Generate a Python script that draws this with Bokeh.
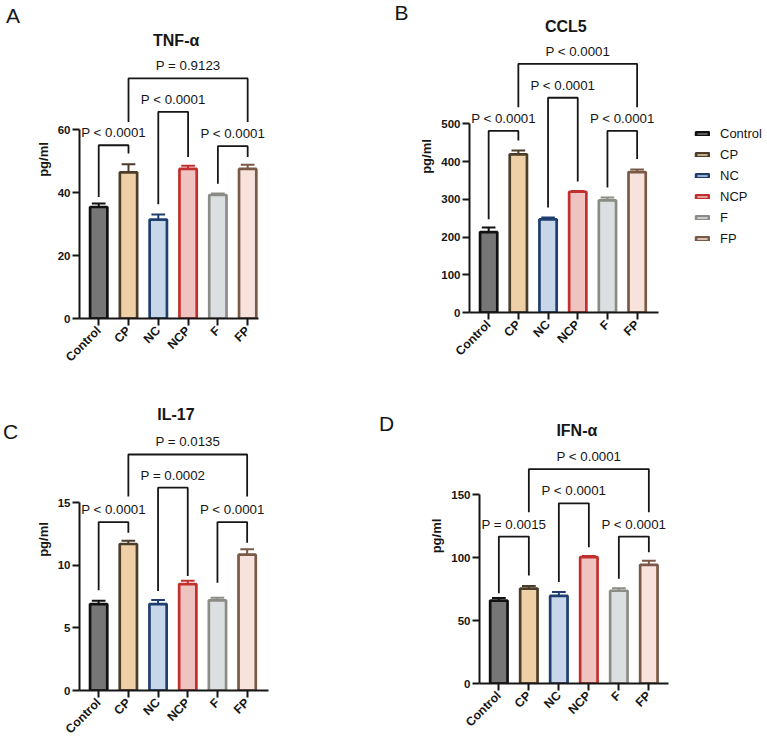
import math

from bokeh.core.properties import value
from bokeh.embed import file_html
from bokeh.layouts import column, row
from bokeh.models import FixedTicker, Legend, LegendItem, Range1d
from bokeh.plotting import figure
from bokeh.resources import INLINE

# ---- groups and colours -------------------------------------------------
groups = ["Control", "CP", "NC", "NCP", "F", "FP"]
fill_colors = ["#767676", "#efcfa6", "#c7d6e8", "#efc3bf", "#dcdfe2", "#f7e3dc"]
edge_colors = ["#111111", "#4b3d2a", "#1f3f70", "#c0302e", "#8c8c86", "#7a5947"]

# ---- TNF-alpha (pg/ml) --------------------------------------------------
tnf_mean = [35.4, 46.4, 31.4, 47.5, 39.2, 47.5]
tnf_sem = [1.1, 2.6, 1.6, 1.0, 0.5, 1.3]
tnf_ticks = [0, 20, 40, 60]
# (group a, group b, label, bracket level, left leg end, right leg end)
tnf_brackets = [
    (0, 1, "P < 0.0001", 55.0, 38.6, 52.4),
    (1, 5, "P = 0.9123", 76.2, 62.4, 62.4),
    (2, 3, "P < 0.0001", 65.6, 36.3, 51.3),
    (4, 5, "P < 0.0001", 54.7, 42.8, 51.3),
]

# ---- CCL5 (pg/ml) -------------------------------------------------------
ccl5_mean = [213, 419, 247, 320, 297, 372]
ccl5_sem = [12, 10, 5, 2, 8, 7]
ccl5_ticks = [0, 100, 200, 300, 400, 500]
ccl5_brackets = [
    (0, 1, "P < 0.0001", 481, 247, 456),
    (1, 5, "P < 0.0001", 659, 544, 544),
    (2, 3, "P < 0.0001", 569, 278, 347),
    (4, 5, "P < 0.0001", 481, 331, 407),
]

# ---- IL-17 (pg/ml) ------------------------------------------------------
il17_mean = [6.9, 11.7, 6.9, 8.5, 7.2, 10.85]
il17_sem = [0.27, 0.27, 0.32, 0.26, 0.21, 0.43]
il17_ticks = [0, 5, 10, 15]
il17_brackets = [
    (0, 1, "P < 0.0001", 13.45, 8.0, 12.6),
    (1, 5, "P = 0.0135", 18.85, 15.5, 15.5),
    (2, 3, "P = 0.0002", 16.2, 7.95, 9.15),
    (4, 5, "P < 0.0001", 13.45, 8.6, 11.8),
]

# ---- IFN-alpha (pg/ml) --------------------------------------------------
ifn_mean = [66.0, 75.5, 69.8, 100.6, 73.8, 94.4]
ifn_sem = [2.0, 2.1, 3.0, 0.8, 1.9, 3.2]
ifn_ticks = [0, 50, 100, 150]
ifn_brackets = [
    (0, 1, "P = 0.0015", 116.9, 71.8, 86.0),
    (1, 5, "P < 0.0001", 170.6, 136.2, 136.2),
    (2, 3, "P < 0.0001", 143.4, 80.7, 108.5),
    (4, 5, "P < 0.0001", 116.9, 83.3, 104.5),
]

FONT = "Liberation Sans"
INK = "#161616"
X0 = -0.645      # left edge of every panel's x range
BORDER = 70      # room under each frame for the slanted group names
ROW1 = 318 + BORDER   # height of the upper row (px)


def txt(p, x, y, s, size, bold=False, dx=0, dy=0, align="center"):
    p.text(x=[x], y=[y], text=[s], x_offset=dx, y_offset=dy,
           text_align=align, text_baseline="middle",
           text_font=value(FONT), text_font_size=value(size),
           text_font_style="bold" if bold else "normal", text_color=INK)


def panel(title, means, sems, ticks, brackets, *, width, left, frame_bottom,
          px_per_unit, x_end, axis_end, title_rise):
    y_end = frame_bottom / px_per_unit
    p = figure(width=width, height=frame_bottom + BORDER,
               output_backend="svg", toolbar_location=None,
               x_range=Range1d(X0, x_end), y_range=Range1d(0, y_end),
               min_border_left=left, min_border_right=0,
               min_border_top=0, min_border_bottom=BORDER)
    p.outline_line_color = None
    p.xgrid.visible = False
    p.ygrid.visible = False

    xs = list(range(len(groups)))
    bars = p.vbar(x=xs, top=means, width=0.58, bottom=0,
                  fill_color=fill_colors, line_color=edge_colors,
                  line_width=2.7)

    # upper error whiskers with caps
    tops = [m + s for m, s in zip(means, sems)]
    p.segment(x0=xs, y0=means, x1=xs, y1=tops, line_color=edge_colors,
              line_width=2)
    p.segment(x0=[x - 0.23 for x in xs], y0=tops,
              x1=[x + 0.23 for x in xs], y1=tops,
              line_color=edge_colors, line_width=2)

    # significance brackets
    bx, by, lx, ly, lt = [], [], [], [], []
    for a, b, label, lvl, la, lb in brackets:
        bx.append([a, a, b, b])
        by.append([la, lvl, lvl, lb])
        lx.append((a + b) / 2)
        ly.append(lvl)
        lt.append(label)
    p.multi_line(xs=bx, ys=by, line_color=INK, line_width=1.8)
    p.text(x=lx, y=ly, text=lt, text_align="center", text_baseline="middle",
           y_offset=-12.5, text_font=value(FONT),
           text_font_size=value("13.3px"), text_color=INK)

    # panel title above the top tick
    txt(p, 2.6, ticks[-1], title, "16px", bold=True, dy=-title_rise)

    # axes
    p.yaxis.ticker = FixedTicker(ticks=ticks)
    p.yaxis.bounds = (ticks[0], ticks[-1])
    p.yaxis.axis_label = "pg/ml"
    p.yaxis.axis_label_text_font = FONT
    p.yaxis.axis_label_text_font_style = "bold"
    p.yaxis.axis_label_text_font_size = "13px"
    p.yaxis.axis_label_text_color = INK
    p.yaxis.axis_label_standoff = 4

    p.xaxis.ticker = FixedTicker(ticks=xs)
    p.xaxis.bounds = (X0, axis_end)
    p.xaxis.major_label_overrides = {i: g for i, g in enumerate(groups)}
    p.xaxis.major_label_orientation = math.pi / 4

    for ax in (p.xaxis, p.yaxis):
        ax.axis_line_width = 2
        ax.axis_line_color = INK
        ax.major_tick_line_width = 2
        ax.major_tick_line_color = INK
        ax.major_tick_out = 7
        ax.major_tick_in = 0
        ax.minor_tick_line_color = None
        ax.major_label_text_font = FONT
        ax.major_label_text_font_style = "bold"
        ax.major_label_text_color = INK
    p.yaxis.major_label_text_font_size = "11.5px"
    p.xaxis.major_label_text_font_size = "12.3px"
    p.yaxis.major_label_standoff = 2
    p.xaxis.major_label_standoff = 3
    p.xaxis.axis_label_standoff = 0
    return p, bars


def letter_strip(height, letter, x, y_from_top):
    s = figure(width=28, height=height, output_backend="svg",
               toolbar_location=None, x_axis_location=None,
               y_axis_location=None, x_range=Range1d(0, 28),
               y_range=Range1d(0, 1), min_border=0)
    s.outline_line_color = None
    s.xgrid.visible = False
    s.ygrid.visible = False
    txt(s, x, 1, letter, "21px", dy=y_from_top)
    return s


pA, _ = panel("TNF-α", tnf_mean, tnf_sem, tnf_ticks, tnf_brackets,
              width=386, left=51, frame_bottom=318, px_per_unit=3.15,
              x_end=10.6, axis_end=5.36, title_rise=89)
pB, barsB = panel("CCL5", ccl5_mean, ccl5_sem, ccl5_ticks, ccl5_brackets,
                  width=353, left=55, frame_bottom=312, px_per_unit=0.3774,
                  x_end=9.39, axis_end=5.72, title_rise=97)
pC, _ = panel("IL-17", il17_mean, il17_sem, il17_ticks, il17_brackets,
              width=386, left=51, frame_bottom=690 - ROW1,
              px_per_unit=12.52, x_end=10.635, axis_end=5.72,
              title_rise=88.7)
pD, _ = panel("IFN-α", ifn_mean, ifn_sem, ifn_ticks, ifn_brackets,
              width=353, left=65, frame_bottom=683 - ROW1,
              px_per_unit=1.2567, x_end=8.955, axis_end=5.655,
              title_rise=64.5)

# panel letters for the right-hand column sit just left of their y axes
txt(pA, X0, pA.y_range.end, "B", "21px", dx=322, dy=12)
txt(pC, X0, pC.y_range.end, "D", "21px", dx=307, dy=423 - ROW1)

legend = Legend(
    items=[LegendItem(label=g, renderers=[barsB], index=i)
           for i, g in enumerate(groups)],
    location=(225, 66), padding=0, margin=0,
    glyph_width=16, glyph_height=5, label_height=16, spacing=5,
    label_standoff=10, label_text_font=FONT, label_text_font_size="13px",
    label_text_color=INK, border_line_color=None, background_fill_alpha=0,
)
pB.add_layout(legend)

layout = column(
    row(letter_strip(ROW1, "A", 12.5, 15), pA, pB),
    row(letter_strip(690 - ROW1 + BORDER, "C", 10, 431 - ROW1), pC, pD),
)

with open("out.html", "w") as f:
    f.write(file_html(layout, INLINE))
